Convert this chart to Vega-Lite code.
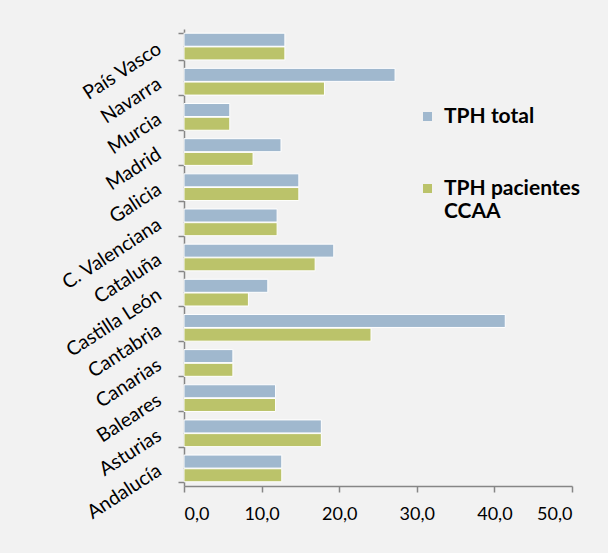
{
  "$schema": "https://vega.github.io/schema/vega-lite/v6.json",
  "width": 388,
  "height": 457,
  "autosize": {"type": "none"},
  "padding": {"left": 184, "top": 29, "right": 36, "bottom": 67},
  "background": "#f2f2f2",
  "config": {
    "view": {"stroke": null},
    "font": "Lato"
  },
  "data": {
    "values": [
      {"region": "País Vasco", "serie": "TPH total", "valor": 13.0},
      {"region": "País Vasco", "serie": "TPH pacientes CCAA", "valor": 13.0},
      {"region": "Navarra", "serie": "TPH total", "valor": 27.2},
      {"region": "Navarra", "serie": "TPH pacientes CCAA", "valor": 18.1},
      {"region": "Murcia", "serie": "TPH total", "valor": 5.9},
      {"region": "Murcia", "serie": "TPH pacientes CCAA", "valor": 5.9},
      {"region": "Madrid", "serie": "TPH total", "valor": 12.5},
      {"region": "Madrid", "serie": "TPH pacientes CCAA", "valor": 8.9},
      {"region": "Galicia", "serie": "TPH total", "valor": 14.8},
      {"region": "Galicia", "serie": "TPH pacientes CCAA", "valor": 14.8},
      {"region": "C. Valenciana", "serie": "TPH total", "valor": 12.0},
      {"region": "C. Valenciana", "serie": "TPH pacientes CCAA", "valor": 12.0},
      {"region": "Cataluña", "serie": "TPH total", "valor": 19.3},
      {"region": "Cataluña", "serie": "TPH pacientes CCAA", "valor": 16.9},
      {"region": "Castilla León", "serie": "TPH total", "valor": 10.8},
      {"region": "Castilla León", "serie": "TPH pacientes CCAA", "valor": 8.3},
      {"region": "Cantabria", "serie": "TPH total", "valor": 41.4},
      {"region": "Cantabria", "serie": "TPH pacientes CCAA", "valor": 24.1},
      {"region": "Canarias", "serie": "TPH total", "valor": 6.3},
      {"region": "Canarias", "serie": "TPH pacientes CCAA", "valor": 6.3},
      {"region": "Baleares", "serie": "TPH total", "valor": 11.8},
      {"region": "Baleares", "serie": "TPH pacientes CCAA", "valor": 11.8},
      {"region": "Asturias", "serie": "TPH total", "valor": 17.7},
      {"region": "Asturias", "serie": "TPH pacientes CCAA", "valor": 17.7},
      {"region": "Andalucía", "serie": "TPH total", "valor": 12.6},
      {"region": "Andalucía", "serie": "TPH pacientes CCAA", "valor": 12.6}
    ]
  },
  "mark": {"type": "bar", "stroke": "white", "strokeWidth": 1},
  "encoding": {
    "y": {
      "field": "region",
      "type": "nominal",
      "sort": null,
      "scale": {"paddingInner": 0.24, "paddingOuter": 0.12},
      "axis": {
        "title": null,
        "labelAngle": -33,
        "labelAlign": "right",
        "labelBaseline": "middle",
        "labelFontSize": 19.5,
        "labelColor": "#000000",
        "labelPadding": 19,
        "domainColor": "#868686",
        "domainWidth": 1.5,
        "tickColor": "#868686",
        "tickSize": 6,
        "tickWidth": 1.5,
        "tickBand": "extent",
        "grid": false
      }
    },
    "yOffset": {
      "field": "serie",
      "type": "nominal",
      "sort": ["TPH total", "TPH pacientes CCAA"],
      "scale": {"paddingInner": 0.05}
    },
    "x": {
      "field": "valor",
      "type": "quantitative",
      "scale": {"domain": [0, 50]},
      "axis": {
        "title": null,
        "values": [0, 10, 20, 30, 40, 50],
        "labelExpr": "replace(format(datum.value, '.1f'), '.', ',')",
        "labelFontSize": 18,
        "labelColor": "#000000",
        "labelPadding": 13,
        "domainColor": "#868686",
        "domainWidth": 1.5,
        "tickColor": "#868686",
        "tickSize": 6,
        "tickWidth": 1.5,
        "grid": false
      }
    },
    "color": {
      "field": "serie",
      "type": "nominal",
      "sort": ["TPH total", "TPH pacientes CCAA"],
      "scale": {
        "domain": ["TPH total", "TPH pacientes CCAA"],
        "range": ["#a0b8ce", "#bbc36a"]
      },
      "legend": {
        "title": null,
        "orient": "none",
        "legendX": 233,
        "legendY": 77,
        "symbolType": "square",
        "symbolSize": 81,
        "symbolStrokeWidth": 0,
        "labelFontSize": 21,
        "labelFontWeight": "bold",
        "labelColor": "#000000",
        "labelOffset": 6,
        "rowPadding": 50,
        "labelLimit": 300,
        "labelExpr": "datum.label == 'TPH pacientes CCAA' ? ['TPH pacientes', 'CCAA'] : datum.label"
      }
    }
  }
}
